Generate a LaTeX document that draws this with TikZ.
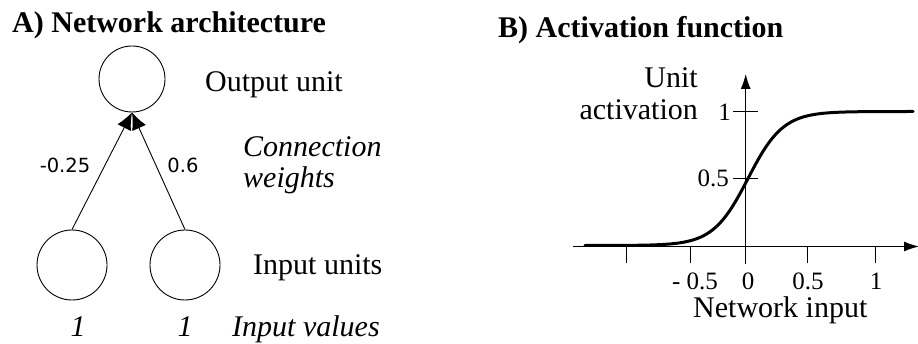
\documentclass[tikz,border=0pt]{standalone}
\usepackage{fontspec}
\setmainfont{Liberation Serif}
\newfontfamily\wfont{DejaVu Sans}
\usetikzlibrary{arrows.meta}
\begin{document}
\begin{tikzpicture}[x=1pt,y=-1pt,
  unit/.style={circle,draw,line width=0.9pt,inner sep=0pt},
  lbl/.style={inner sep=0pt,font=\fontsize{30}{32}\selectfont},
  ilbl/.style={inner sep=0pt,font=\fontsize{30}{32}\selectfont\itshape},
  ttl/.style={inner sep=0pt,font=\fontsize{30}{32}\selectfont\bfseries},
  wlbl/.style={inner sep=0pt,font=\fontsize{19.5}{21}\selectfont\wfont},
  tick/.style={inner sep=0pt,font=\fontsize{25}{27}\selectfont},
  conn/.style={line width=0.9pt,-{Latex[length=17pt,width=15pt]}},
  axis/.style={line width=1.1pt},
  tk/.style={line width=1pt}]
\useasboundingbox (0,0) rectangle (918,344);
% ---------- Panel A ----------
\node[ttl,anchor=base west] (ta) at (12,33) {A) Network architecture};
\node[unit,minimum size=66pt] (out) at (132,79) {};
\node[unit,minimum size=70pt] (in1) at (72,265) {};
\node[unit,minimum size=70pt] (in2) at (185,265) {};
\draw[conn] (in1.north) -- (out.south);
\draw[conn] (in2.north) -- (out.south);
\node[wlbl,anchor=base] (w1) at (65,173) {-0.25};
\node[wlbl,anchor=base] (w2) at (183,173) {0.6};
\node[lbl,anchor=base west] (lo) at (205,92) {Output unit};
\node[ilbl,anchor=base west] (lc1) at (243,157) {Connection};
\node[ilbl,anchor=base west] (lc2) at (243,188) {weights};
\node[lbl,anchor=base west] (li) at (253,275) {Input units};
\node[ilbl,anchor=base] (v1) at (78,337) {1};
\node[ilbl,anchor=base] (v2) at (185,337) {1};
\node[ilbl,anchor=base west] (lv) at (232,337) {Input values};
% ---------- Panel B ----------
\node[ttl,anchor=base west] (tb) at (498,38) {B) Activation function};
\coordinate (o) at (745.7,246.5);
\coordinate (xl) at (573,246.5);
\coordinate (xr) at (919,246.5);
\coordinate (yt) at (745.7,74);
\coordinate (yb) at (745.7,264);
\draw[axis,-{Latex[length=15pt,width=10pt]}] (xl) -- (xr);
\draw[axis,-{Latex[length=15pt,width=10pt]}] (yb) -- (yt);
\foreach \t in {626.5,690.7,807.3,875.5}{
  \draw[tk] (\t,246.5) -- (\t,263);
}
\draw[tk] (733,112) -- (758,112);
\draw[tk] (733,178.5) -- (758,178.5);
\node[tick,anchor=base] (x1) at (695,290) {- 0.5};
\node[tick,anchor=base] (x2) at (748,290) {0};
\node[tick,anchor=base] (x3) at (808,290) {0.5};
\node[tick,anchor=base] (x4) at (876,290) {1};
\node[tick,anchor=base east] (y1) at (731,121) {1};
\node[tick,anchor=base east] (y2) at (729,187) {0.5};
\node[lbl,anchor=base east] (ua) at (698,88) {Unit};
\node[lbl,anchor=base east] (ub) at (698,120) {activation};
\node[lbl,anchor=base west] (ni) at (693,318) {Network input};
\draw[line width=3pt,line cap=round,smooth,samples=120,domain=585:913]
  plot ({\x},{245.5-134/(1+exp(-(\x-748)/17.5))});
\end{tikzpicture}
\end{document}
